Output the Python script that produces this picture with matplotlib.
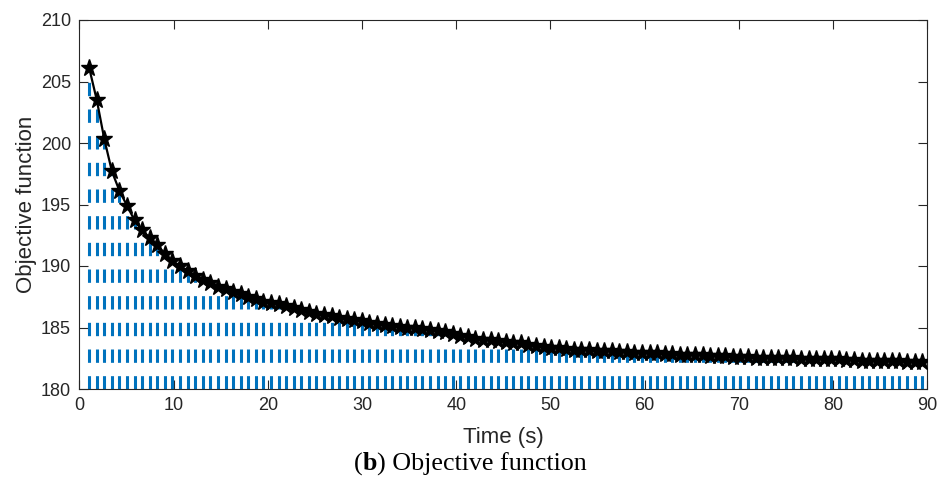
import numpy as np
import matplotlib
matplotlib.use("Agg")
import matplotlib.pyplot as plt

plt.rcParams['font.family'] = ['Liberation Sans', 'DejaVu Sans']
plt.rcParams['lines.scale_dashes'] = False

# ---- data ----
time_s = np.linspace(1.05, 89.46, 111)
objective = [
    206.1, 203.5, 200.3, 197.7, 196.1, 194.9, 193.7, 192.9, 192.3, 191.7,
    191.0, 190.4, 190.0, 189.6, 189.2, 188.9, 188.6, 188.3, 188.1, 187.9,
    187.7, 187.5, 187.3, 187.1, 187.0, 186.9, 186.75, 186.6, 186.4, 186.25,
    186.1, 186.0, 185.9, 185.8, 185.7, 185.6, 185.5, 185.4, 185.3, 185.2,
    185.1, 185.05, 185.0, 184.95, 184.9, 184.8, 184.7, 184.6, 184.45, 184.3,
    184.2, 184.1, 184.0, 183.95, 183.9, 183.8, 183.75, 183.7, 183.6, 183.5,
    183.4, 183.35, 183.3, 183.25, 183.2, 183.2, 183.15, 183.1, 183.1, 183.05,
    183.0, 183.0, 182.95, 182.95, 182.9, 182.9, 182.85, 182.85, 182.8, 182.8,
    182.8, 182.75, 182.7, 182.7, 182.65, 182.6, 182.6, 182.58, 182.56, 182.55,
    182.55, 182.5, 182.5, 182.5, 182.45, 182.45, 182.45, 182.4, 182.4, 182.4,
    182.35, 182.35, 182.3, 182.3, 182.3, 182.25, 182.25, 182.25, 182.2, 182.2,
    182.2,
]
x_ticks = [0, 10, 20, 30, 40, 50, 60, 70, 80, 90]
y_ticks = [180, 185, 190, 195, 200, 205, 210]
baseline = 180

x_label = "Time (s)"
y_label = "Objective function"

# ---- figure ----
fig = plt.figure(figsize=(9.38, 4.82), dpi=100)
ax = fig.add_axes([79.3 / 938, 1 - 389 / 482, (927.3 - 79.3) / 938, (389 - 20) / 482])

ax.vlines(time_s, baseline, objective, colors='#0072BD', linewidth=2.2,
          linestyles=[(0, (9.6, 9.6))], zorder=2)
ax.plot(time_s, objective, color='black', linewidth=1.6, marker='*',
        markersize=12.5, markerfacecolor='black', markeredgecolor='black', zorder=3)

ax.set_xlim(0, 90)
ax.set_ylim(180, 210)
ax.set_xticks(x_ticks)
ax.set_yticks(y_ticks)
ax.tick_params(direction='in', length=6.5, width=0.8, top=True, right=True,
               labelsize=13, colors='#262626', pad=6)
for s in ax.spines.values():
    s.set_linewidth(0.8)
    s.set_color('#262626')

ax.set_xlabel(x_label, fontsize=16, color='#262626', labelpad=9)
ax.set_ylabel(y_label, fontsize=16, color='#262626', labelpad=3)

# ---- caption "(b) Objective function" ----
fig.canvas.draw()
r = fig.canvas.get_renderer()
cap_size = 16.0
serif = ['Liberation Serif', 'DejaVu Serif']
pieces = [("(", 'normal'), ("b", 'bold'), (") Objective function", 'normal')]

def measure(size):
    total = 0
    for txt, w in pieces:
        t = fig.text(0, 0, txt, fontsize=size, family=serif, weight=w)
        total += t.get_window_extent(r).width
        t.remove()
    return total

width = measure(cap_size)
cap_size = cap_size * 233.0 / width
width = measure(cap_size)
x0 = 470.5 - width / 2
y_c = 1 - 464 / 482
for txt, w in pieces:
    t = fig.text(x0 / 938, y_c, txt, fontsize=cap_size, family=serif, weight=w,
                 va='center', ha='left', color='black')
    x0 += t.get_window_extent(r).width

fig.savefig("out.png", dpi=100)
